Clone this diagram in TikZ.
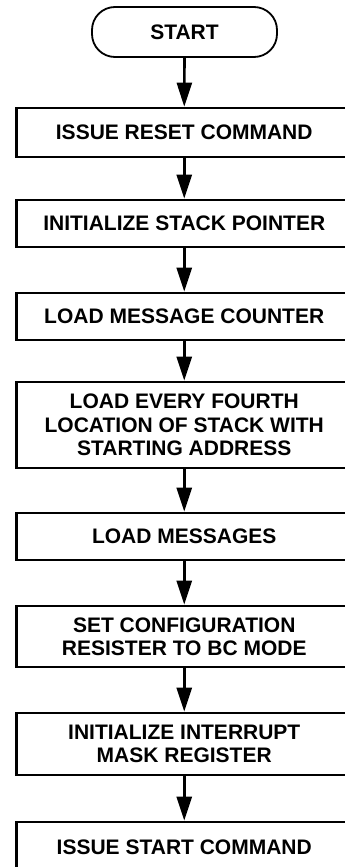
\documentclass[tikz,border=0pt]{standalone}
\usepackage{fontspec}
\setmainfont{Liberation Sans}
\usetikzlibrary{arrows.meta}
\tikzset{
  stepbox/.style={draw=black, line width=2.6pt, minimum width=335.5pt, inner sep=0pt, align=center,
    font=\fontsize{21}{23.4}\selectfont\bfseries},
  startbox/.style={draw=black, line width=1.8pt, rounded corners=23pt, minimum width=185pt, minimum height=50pt,
    inner sep=0pt, font=\fontsize{21}{23.4}\selectfont\bfseries},
  flow/.style={line width=2.6pt, -{Triangle[width=15pt,length=24pt]}}
}
\begin{document}
\begin{tikzpicture}[x=1pt,y=-1pt]
\useasboundingbox (0,0) rectangle (345,867);
\clip (0,0) rectangle (345,867);
\node[startbox] (s) at (184.5,32) {START};
\node[stepbox, minimum height=49pt] (b1) at (184.25,132.5) {ISSUE RESET COMMAND};
\node[stepbox, minimum height=47pt] (b2) at (184.25,223.5) {INITIALIZE STACK POINTER};
\node[stepbox, minimum height=47pt] (b3) at (184.25,316.5) {LOAD MESSAGE COUNTER};
\node[stepbox, minimum height=86pt] (b4) at (184.25,425) {LOAD EVERY FOURTH\\LOCATION OF STACK WITH\\STARTING ADDRESS};
\node[stepbox, minimum height=47pt] (b5) at (184.25,536.5) {LOAD MESSAGES};
\node[stepbox, minimum height=61pt] (b6) at (184.25,636.5) {SET CONFIGURATION\\RESISTER TO BC MODE};
\node[stepbox, minimum height=62pt] (b7) at (184.25,744) {INITIALIZE INTERRUPT\\MASK REGISTER};
\node[stepbox, minimum height=50pt] (b8) at (184.25,847) {ISSUE START COMMAND};
\draw[flow] (s.south) -- (b1.north);
\draw[flow] (b1.south) -- (b2.north);
\draw[flow] (b2.south) -- (b3.north);
\draw[flow] (b3.south) -- (b4.north);
\draw[flow] (b4.south) -- (b5.north);
\draw[flow] (b5.south) -- (b6.north);
\draw[flow] (b6.south) -- (b7.north);
\draw[flow] (b7.south) -- (b8.north);
\end{tikzpicture}
\end{document}
